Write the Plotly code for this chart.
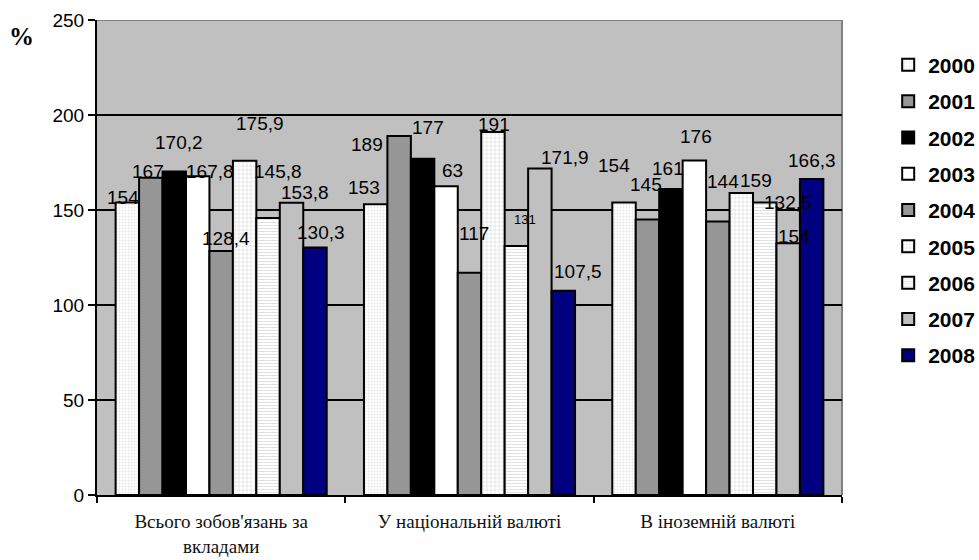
import plotly.graph_objects as go

categories = ["Всього зобов'язань за<br>вкладами", "У національній валюті", "В іноземній валюті"]
years = ["2000", "2001", "2002", "2003", "2004", "2005", "2006", "2007", "2008"]

# values per year, one entry per category
v2000 = [154, 153, 154]
v2001 = [167, 189, 145]
v2002 = [170.2, 177, 161]
v2003 = [167.8, 162.5, 176]
v2004 = [128.4, 117, 144]
v2005 = [175.9, 191, 159]
v2006 = [145.8, 131, 154]
v2007 = [153.8, 171.9, 132.5]
v2008 = [130.3, 107.5, 166.3]
series = [v2000, v2001, v2002, v2003, v2004, v2005, v2006, v2007, v2008]

# data label texts as printed on the chart
labels = [
    ["154", "153", "154"],
    ["167", "189", "145"],
    ["170,2", "177", "161"],
    ["167,8", "63", "176"],
    ["128,4", "117", "144"],
    ["175,9", "191", "159"],
    ["145,8", "131", "154"],
    ["153,8", "171,9", "132,5"],
    ["130,3", "107,5", "166,3"],
]

# ---- styling ----
W, H = 979, 560
ML, MR, MT, MB = 97, 137, 20, 65
BARGAP = 0.15

styles = [
    dict(color="white", pattern=dict(shape=".", fgcolor="#cfcfcf", bgcolor="white", size=3, solidity=0.35)),
    dict(color="#969696"),
    dict(color="#000000"),
    dict(color="#ffffff"),
    dict(color="#969696"),
    dict(color="white", pattern=dict(shape="+", fgcolor="#9a9a9a", bgcolor="white", size=4, solidity=0.2)),
    dict(color="white", pattern=dict(shape="-", fgcolor="#c4c4c4", bgcolor="white", size=3, solidity=0.35)),
    dict(color="#c0c0c0"),
    dict(color="#000080"),
]

# per-label pixel nudges (dx, dy) relative to bar top centre
nudges = [
    [(-4, 5), (-12, 17), (-10, 37)],
    [(-3, 6), (-32, -9), (-1, 35)],
    [(5, 29), (5, 31), (-3, 21)],
    [(12, 5), (6, 16), (2, 24)],
    [(5, 13), (4, 39), (5, 40)],
    [(15, 37), (1, 8), (15, 12)],
    [(10, 46), (9, 27), (29, -34)],
    [(13, 10), (25, 11), (0, 41)],
    [(6, 15), (15, 19), (0, 19)],
]
label_sizes = [[19, 19, 19] for _ in years]
label_sizes[6][1] = 13

fig = go.Figure()
for k, (yr, vals, st) in enumerate(zip(years, series, styles)):
    marker = dict(color=st["color"], line=dict(color="black", width=2))
    if "pattern" in st:
        marker["pattern"] = st["pattern"]
    fig.add_trace(go.Bar(
        name=yr, x=categories, y=vals, marker=marker,
        legendgroup=yr, hoverinfo="x+y+name",
    ))

# compute per-bar pixel offset within group from layout
plot_w = W - ML - MR
cat_w = plot_w / len(categories)
bar_w = cat_w * (1 - BARGAP) / len(years)

annotations = []
for k in range(len(years)):
    off = (k - (len(years) - 1) / 2) * bar_w
    for j, cat in enumerate(categories):
        dx, dy = nudges[k][j]
        annotations.append(dict(
            x=cat, y=series[k][j], xref="x", yref="y",
            text=labels[k][j], showarrow=False,
            xanchor="center", yanchor="middle",
            xshift=off + dx, yshift=dy,
            font=dict(family="Liberation Sans, Arial", size=label_sizes[k][j], color="black"),
        ))

annotations.append(dict(
    x=-0.1007, y=0.966, xref="paper", yref="paper", text="<b>%</b>",
    showarrow=False, xanchor="center", yanchor="middle",
    font=dict(family="Liberation Serif, Times New Roman", size=25, color="black"),
))

fig.update_layout(
    width=W, height=H,
    margin=dict(l=ML, r=MR, t=MT, b=MB, autoexpand=False),
    paper_bgcolor="white", plot_bgcolor="#c0c0c0",
    barmode="group", bargap=BARGAP, bargroupgap=0,
    showlegend=True,
    legend=dict(
        x=1.062, y=0.948, xanchor="left", yanchor="top",
        font=dict(family="Liberation Sans, Arial", size=21, color="black", weight="bold"),
        tracegroupgap=6, bgcolor="rgba(0,0,0,0)",
    ),
    annotations=annotations,
    shapes=[
        dict(type="line", xref="paper", yref="y", x0=0, x1=1, y0=250, y1=250,
             line=dict(color="#808080", width=2), layer="between"),
        dict(type="line", xref="paper", yref="y", x0=1, x1=1, y0=0, y1=250,
             line=dict(color="#808080", width=2), layer="between"),
    ],
    xaxis=dict(
        type="category", showline=True, linecolor="black", linewidth=2,
        ticks="outside", tickson="boundaries", ticklen=6, tickwidth=2, tickcolor="black",
        showgrid=False, ticklabelstandoff=8,
        tickfont=dict(family="Liberation Serif, Times New Roman", size=19, color="#111111"),
    ),
    yaxis=dict(
        range=[0, 250], dtick=50, showline=True, linecolor="black", linewidth=2,
        ticks="outside", ticklen=7, tickwidth=2, tickcolor="black",
        showgrid=True, gridcolor="black", gridwidth=2, zeroline=False,
        tickfont=dict(family="Liberation Sans, Arial", size=19, color="black"),
    ),
)

fig.write_html(
    "out.html",
    config={"displayModeBar": False},
    post_script="document.body.style.margin='0';document.body.style.overflow='hidden';",
)
